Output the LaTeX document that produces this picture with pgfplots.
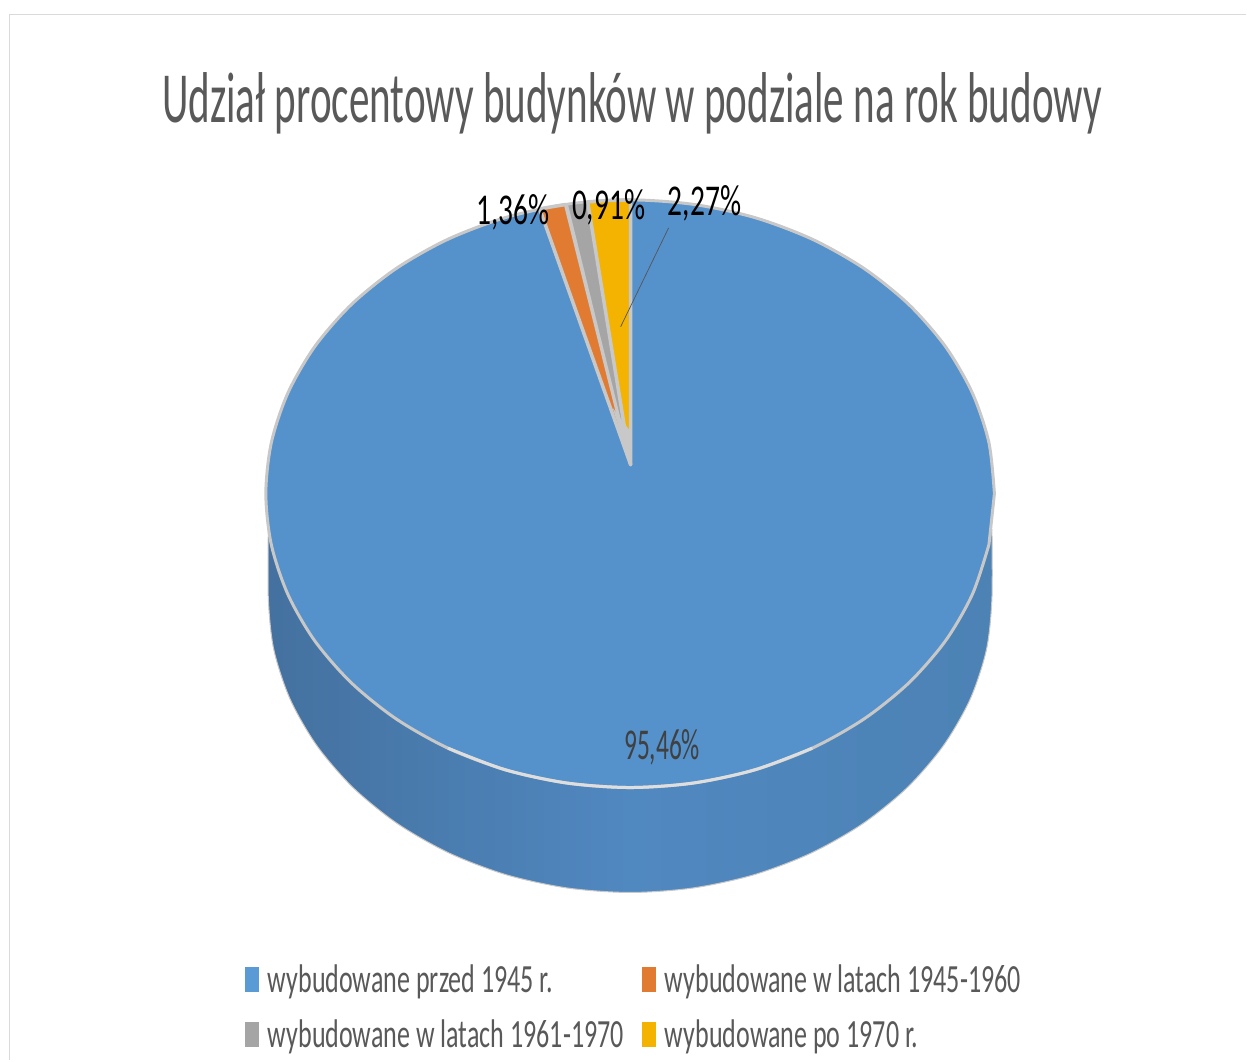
\documentclass[border=0pt]{standalone}
\usepackage{fontspec}
\setmainfont{Carlito}
\usepackage{graphicx}
\usepackage{pgfplots}
\usepackage{pgfplotstable}
\pgfplotsset{compat=1.18}

\definecolor{pieblue}{HTML}{5591CB}
\definecolor{legblue}{HTML}{5B9BD5}
\definecolor{pieorange}{HTML}{E27B32}
\definecolor{piegrey}{HTML}{A5A5A5}
\definecolor{pieyellow}{HTML}{F3B300}
\definecolor{rim}{HTML}{C8C8C8}
\definecolor{rimlight}{HTML}{DEDEDE}
\definecolor{frame}{HTML}{DADADA}
\definecolor{txt}{HTML}{595959}
\definecolor{txtdark}{HTML}{404040}
\definecolor{leader}{HTML}{555555}
\definecolor{wallL}{HTML}{44719F}
\definecolor{wallM}{HTML}{5088C0}
\definecolor{wallR}{HTML}{4C82B4}

% outlines in picture pixels, y down
\pgfplotstableread{
x y
995.0 494
989.5 442.9
973.0 393.4
946.2 347
909.7 305
864.8 268.8
812.8 239.4
755.2 217.7
693.8 204.5
630.5 200
567.2 204.5
505.8 217.7
448.2 239.4
396.2 268.8
351.3 305
314.8 347
288.0 393.4
271.5 442.9
266.0 494
271.5 545.1
288.0 594.6
314.8 641
351.3 683
396.2 719.2
448.2 748.6
505.8 770.3
567.2 783.5
630.5 788
693.8 783.5
755.2 770.3
812.8 748.6
864.8 719.2
909.7 683
946.2 641
973.0 594.6
989.5 545.1
}\toprim
\pgfplotstableread{
x y
268.5 530
268.5 599
274.0 650.1
290.3 699.6
317.0 746
353.2 788
397.8 824.2
449.5 853.6
506.7 875.3
567.6 888.5
630.5 893
693.4 888.5
754.3 875.3
811.5 853.6
863.2 824.2
907.8 788
944.0 746
970.7 699.6
987.0 650.1
992.5 599
992.5 530
}\wall

\newcommand{\sq}[2]{\scalebox{#1}[1]{#2}}

\begin{document}
\begin{tikzpicture}
\begin{axis}[
  scale only axis,
  width=1247pt, height=1061pt,
  xmin=0, xmax=1247, ymin=0, ymax=1061,
  y dir=reverse,
  hide axis,
  clip=false,
  legend columns=2,
  legend cell align=left,
  legend style={draw=none, fill=none, at={(axis cs:245,963)}, anchor=north west,
    inner sep=0pt, outer sep=0pt,
    font=\fontsize{40}{40}\selectfont\color{txt},
    /tikz/every even column/.style={column sep=16pt},
    /tikz/row sep=22pt},
  legend image code/.code={\path[#1, draw=none] (0pt,-12.5pt) rectangle (14pt,12.5pt); \path[draw=none, fill=none] (0pt,0pt) -- (21pt,0pt);},
]
\addlegendimage{fill=legblue}
\addlegendimage{fill=pieorange}
\addlegendimage{fill=piegrey}
\addlegendimage{fill=pieyellow}

\addplot[draw=none, fill=white, forget plot] coordinates {(0,0)(1247,0)(1247,1061)(0,1061)} -- cycle;
\addplot[draw=frame, line width=1.5pt, forget plot] coordinates {(9.5,1061)(9.5,14.5)(1247,14.5)};

% side wall
\addplot[smooth, draw=rim, line width=1pt, left color=wallL, right color=wallR, middle color=wallM, forget plot] table[x=x,y=y] {\wall} -- cycle;
% top face
\addplot[smooth, draw=rim, line width=3pt, fill=pieblue, forget plot] table[x=x,y=y] {\toprim} -- cycle;
\addplot[smooth, draw=rimlight, line width=3pt, forget plot] coordinates {(448.2,748.6)(505.8,770.3)(567.2,783.5)(630.5,788)(693.8,783.5)(755.2,770.3)(812.8,748.6)};

% slices
\addplot[draw=rim, line width=3.5pt, line join=round, fill=pieorange, forget plot] coordinates {(631,465)(540,209)(555,206.4)(566,204.6)} -- cycle;
\addplot[draw=rim, line width=2.5pt, line join=round, fill=piegrey, forget plot] coordinates {(631,465)(567,204.5)(578,203)(589,201.9)} -- cycle;
\addplot[draw=rim, line width=3.5pt, line join=round, fill=pieyellow, forget plot] coordinates {(631,465)(588,202)(610,200.5)(631,200)} -- cycle;
% the borders merge towards the centre
\addplot[draw=none, fill=rim, forget plot] coordinates {(631,465)(613,408)(622,420)(631,432)} -- cycle;

% leader line of the 2,27% label
\addplot[draw=leader, line width=0.7pt, forget plot] coordinates {(669,228)(621,327)};

\legend{\sq{.651}{wybudowane przed 1945 r.},\sq{.651}{wybudowane w latach 1945-1960},\sq{.651}{wybudowane w latach 1961-1970},\sq{.651}{wybudowane po 1970 r.}}

\node[text=txt, inner sep=0pt] at (axis cs:632.5,103) {\fontsize{72}{72}\selectfont\sq{.571}{Udział procentowy budynków w podziale na rok budowy}};
\node[text=black, inner sep=0pt] at (axis cs:513,212) {\fontsize{44}{44}\selectfont\sq{.67}{1,36\%}};
\node[text=black, inner sep=0pt] at (axis cs:609,207) {\fontsize{44}{44}\selectfont\sq{.67}{0,91\%}};
\node[text=black, inner sep=0pt] at (axis cs:705,203) {\fontsize{44}{44}\selectfont\sq{.67}{2,27\%}};
\node[text=txtdark, inner sep=0pt] at (axis cs:662.5,748) {\fontsize{44}{44}\selectfont\sq{.577}{95,46\%}};
\end{axis}
\end{tikzpicture}
\end{document}
